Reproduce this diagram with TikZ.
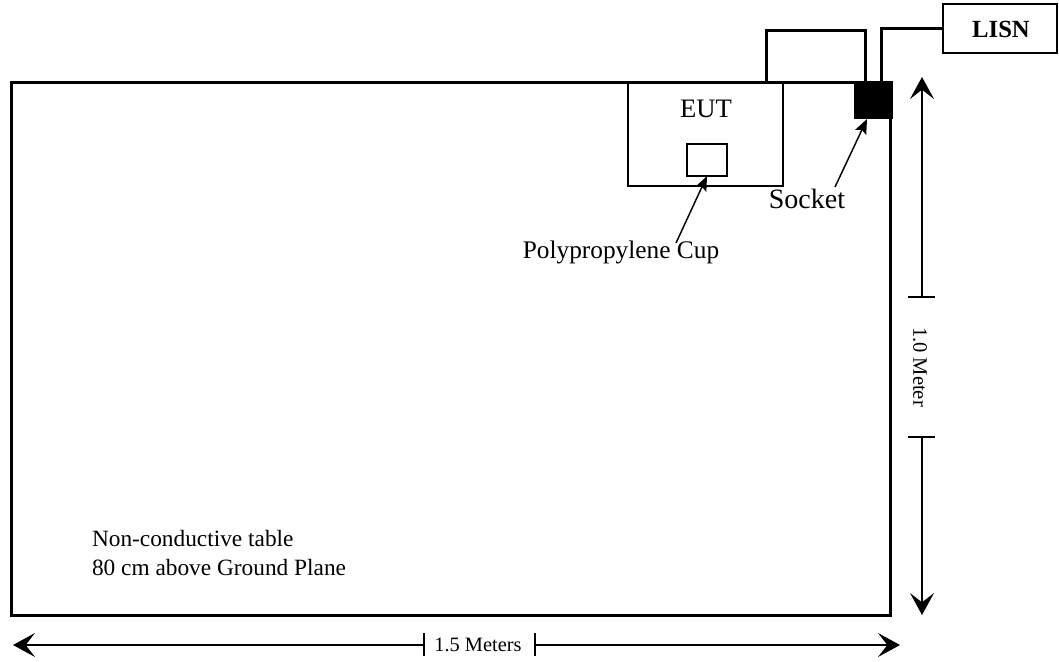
\documentclass[tikz,border=0pt]{standalone}
\usepackage{fontspec}
\setmainfont{Liberation Serif}
\usetikzlibrary{arrows.meta}
\tikzset{
  boxthin/.style={draw, line width=1.5pt, inner sep=0pt, outer sep=0pt, anchor=north west},
  tablebox/.style={draw, line width=2.25pt, inner sep=0pt, outer sep=0pt, anchor=north west},
  cable/.style={line width=2.25pt},
  dimline/.style={line width=1pt},
  dimarrow/.style={line width=1pt, -{Stealth[length=16.5pt,width=18pt,inset=7pt]}},
  pointer/.style={line width=1.1pt, -{Stealth[length=11pt,width=9pt,inset=2pt]}},
  lbl/.style={inner sep=0pt, outer sep=0pt}
}
\begin{document}
\begin{tikzpicture}[x=0.75pt,y=-0.75pt]
\useasboundingbox (0,0) rectangle (1059,661);
% table
\node[tablebox, minimum width=659.6pt, minimum height=400.1pt] (table) at (11.5,82) {};
% EUT
\node[boxthin, minimum width=116.25pt, minimum height=78pt] (eut) at (628,82) {};
\node[lbl, anchor=base, font=\fontsize{20}{24}\selectfont] (eutlbl) at (706,117) {EUT};
% cup
\node[boxthin, minimum width=30pt, minimum height=24pt] (cup) at (687,144) {};
% socket
\node[draw, fill=black, line width=0pt, inner sep=0pt, outer sep=0pt, anchor=north west, minimum width=28.5pt, minimum height=27.75pt] (socket) at (854,81) {};
% LISN
\node[boxthin, minimum width=85.5pt, minimum height=36.75pt] (lisn) at (943,4) {};
\node[lbl, anchor=base, font=\fontsize{18.5}{22}\selectfont\bfseries] (lisnlbl) at (1001,37) {LISN};
% cables
\coordinate (c1a) at (766,82);
\coordinate (c1top) at (766,30);
\coordinate (c1b) at (865,81);
\coordinate (c2a) at (881,81);
\draw[cable] (c1a) |- (c1b |- c1top) -- (c1b);
\draw[cable] (c2a) |- (lisn.west);
% labels and pointers
\node[lbl, anchor=base, font=\fontsize{21}{25}\selectfont] (socklbl) at (807,208) {Socket};
\coordinate (socktail) at (835,187);
\coordinate (socktip) at (867,119);
\draw[pointer] (socktail) -- (socktip);
\node[lbl, anchor=base, font=\fontsize{19}{23}\selectfont] (cuplbl) at (621,258) {Polypropylene Cup};
\coordinate (cuptail) at (676,243);
\draw[pointer] (cuptail) -- (cup.south);
% table text
\node[lbl, anchor=base west, font=\fontsize{17.5}{21}\selectfont] (t1) at (92,546) {Non-conductive table};
\node[lbl, anchor=base west, font=\fontsize{17.5}{21}\selectfont] (t2) at (92,575) {80 cm above Ground Plane};
% vertical dimension
\coordinate (vtop) at (922,77);
\coordinate (vbot) at (922,615);
\coordinate (vt1) at (922,297);
\coordinate (vt2) at (922,437);
\draw[dimarrow] (vt1) -- (vtop);
\draw[dimarrow] (vt2) -- (vbot);
\draw[dimline] (908,297) -- (935,297);
\draw[dimline] (908,437) -- (935,437);
\node[lbl, rotate=-90, font=\fontsize{15.4}{18}\selectfont] (vlbl) at (920,367) {1.0 Meter};
% horizontal dimension
\coordinate (hl) at (13,645);
\coordinate (hr) at (900,645);
\coordinate (ht1) at (424,645);
\coordinate (ht2) at (535,645);
\draw[dimarrow] (ht1) -- (hl);
\draw[dimarrow] (ht2) -- (hr);
\draw[dimline] (424,633) -- (424,656);
\draw[dimline] (535,633) -- (535,656);
\node[lbl, anchor=base, font=\fontsize{15.3}{18}\selectfont] (hlbl) at (478,651) {1.5 Meters};
\end{tikzpicture}
\end{document}
